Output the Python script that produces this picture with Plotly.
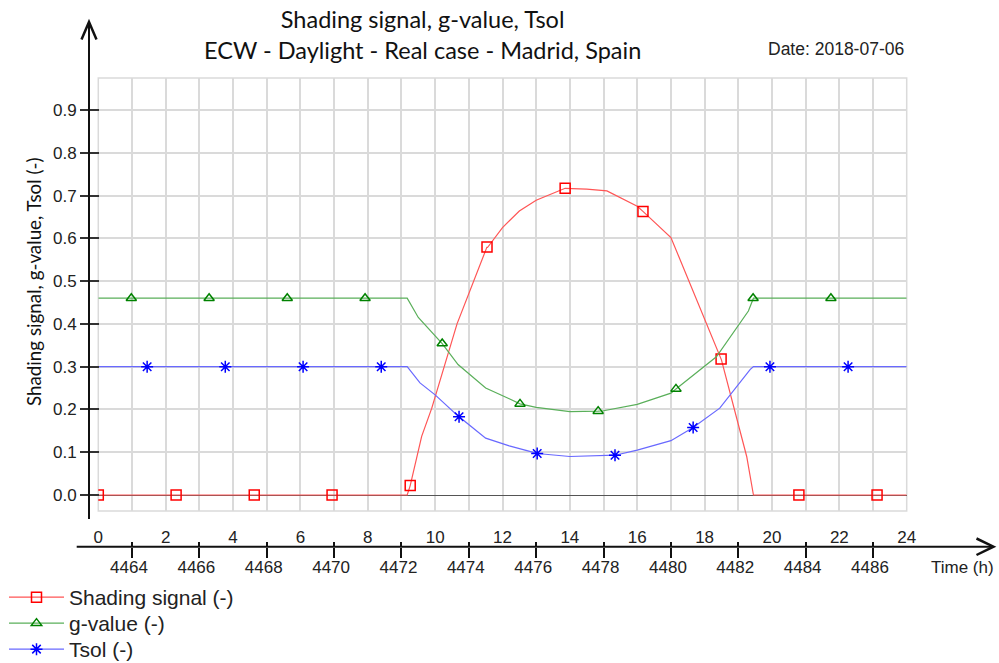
import plotly.graph_objects as go

# ---------------- data ----------------
# line knots: hour of day -> value
shade_h = [0, 9.17, 9.6, 9.9, 10.65, 11.55, 12.0, 12.5, 13.0, 13.86, 14.5, 15.1, 16.0, 17.0, 18.5, 19.25, 19.45, 24]
shade_v = [0, 0, 0.137, 0.203, 0.40, 0.578, 0.625, 0.664, 0.689, 0.716, 0.715, 0.711, 0.675, 0.602, 0.316, 0.09, 0, 0]

gval_h = [0, 9.17, 9.5, 10.2, 10.68, 11.5, 12.2, 13.0, 14.0, 15.0, 16.0, 17.0, 18.35, 19.3, 19.45, 24]
gval_v = [0.46, 0.46, 0.415, 0.356, 0.305, 0.25, 0.225, 0.205, 0.195, 0.197, 0.212, 0.238, 0.323, 0.43, 0.46, 0.46]

tsol_h = [0, 9.17, 9.55, 10.0, 10.7, 11.5, 12.2, 13.0, 14.0, 15.0, 16.0, 17.0, 18.45, 19.35, 19.45, 24]
tsol_v = [0.30, 0.30, 0.262, 0.234, 0.183, 0.133, 0.115, 0.098, 0.09, 0.092, 0.105, 0.127, 0.203, 0.293, 0.30, 0.30]

# marker positions along each curve
shade_mh = [0, 2.31, 4.63, 6.94, 9.26, 11.54, 13.86, 16.17, 18.49, 20.8, 23.12]
shade_mv = [0, 0, 0, 0, 0.022, 0.58, 0.717, 0.663, 0.318, 0, 0]
gval_mh = [0.98, 3.29, 5.61, 7.92, 10.21, 12.52, 14.84, 17.15, 19.44, 21.75]
gval_mv = [0.46, 0.46, 0.46, 0.46, 0.354, 0.213, 0.196, 0.248, 0.46, 0.46]
tsol_mh = [1.45, 3.77, 6.08, 8.40, 10.71, 13.03, 15.34, 17.66, 19.94, 22.26]
tsol_mv = [0.30, 0.30, 0.30, 0.30, 0.183, 0.097, 0.093, 0.158, 0.30, 0.30]

series_names = ["Shading signal (-)", "g-value (-)", "Tsol (-)"]

hour_ticks = list(range(0, 25, 2))
hour_labels = [str(h) for h in hour_ticks]
index_ticks = list(range(1, 24, 2))
index_labels = [str(4463 + h) for h in index_ticks]
y_ticks = [i / 10 for i in range(10)]
y_labels = [f"{v:.1f}" for v in y_ticks]

# ---------------- layout helpers ----------------
W, H = 999, 663
def px(x):
    return x / W
def py(y):
    return 1 - y / H

Y0_PX, Y09_PX = 495.0, 110.0
unit = (Y0_PX - Y09_PX) / 0.9
y_lo = -(511 - Y0_PX) / unit
y_hi = (Y0_PX - 78) / unit

ARIAL = "Liberation Sans, Arial, sans-serif"
TICK_FONT = dict(family=ARIAL, size=17, color="#222")


def combined(h_line, v_line, h_mark, v_mark):
    pts = [(h, v, 0) for h, v in zip(h_line, v_line)] + [(h, v, 1) for h, v in zip(h_mark, v_mark)]
    pts.sort(key=lambda p: (p[0], p[2]))
    xs = [p[0] for p in pts]
    ys = [p[1] for p in pts]
    sel = [i for i, p in enumerate(pts) if p[2] == 1]
    return xs, ys, sel


fig = go.Figure()

specs = [
    (shade_h, shade_v, shade_mh, shade_mv, "rgb(255,85,85)", "rgb(255,0,0)", "square-open", 10, "x", "y"),
    (gval_h, gval_v, gval_mh, gval_mv, "rgb(90,175,90)", "rgb(0,130,0)", "triangle-up-open", 9, "x2", "y"),
    (tsol_h, tsol_v, tsol_mh, tsol_mv, "rgb(105,105,255)", "rgb(0,0,255)", "asterisk-open", 10, "x3", "y2"),
]
legend_ids = ["legend", "legend2", "legend3"]
for i, (hl, vl, hm, vm, lc, mc, sym, ms, xa, ya) in enumerate(specs):
    xs, ys, sel = combined(hl, vl, hm, vm)
    fig.add_trace(go.Scatter(
        x=xs, y=ys, mode="lines+markers", name=series_names[i],
        xaxis=xa, yaxis=ya, legend=legend_ids[i],
        line=dict(color=lc, width=1.2),
        marker=dict(symbol=sym, size=ms, color=mc, line=dict(color=mc, width=1.5)),
        selectedpoints=sel,
        selected=dict(marker=dict(opacity=1)),
        unselected=dict(marker=dict(opacity=0)),
        hoverinfo="skip",
    ))

LEG = dict(x=px(4), xanchor="left", yanchor="top",
           font=dict(family=ARIAL, size=21, color="#222"),
           itemsizing="trace", itemwidth=55, bgcolor="rgba(0,0,0,0)")

fig.update_layout(
    width=W, height=H,
    margin=dict(l=0, r=0, t=0, b=0, autoexpand=False),
    paper_bgcolor="white", plot_bgcolor="white",
    template="none",
    font=dict(family=ARIAL, size=17, color="#222"),
    xaxis=dict(
        domain=[px(98.3), px(906.7)], range=[0, 24],
        tickvals=list(range(25)), showticklabels=False, ticks="",
        showgrid=True, gridcolor="#dadada", gridwidth=1.5,
        zeroline=False, showline=False, automargin=False,
    ),
    xaxis2=dict(
        overlaying="x", anchor="free", position=py(546.7), side="bottom",
        range=[0, 24], tickvals=index_ticks, ticktext=index_labels,
        ticks="outside", ticklen=10, tickwidth=1.5, tickcolor="#111",
        ticklabelstandoff=-5, ticklabelshift=-3,
        showgrid=False, zeroline=False, showline=False, automargin=False,
        tickfont=TICK_FONT,
    ),
    xaxis3=dict(
        overlaying="x", anchor="free", position=py(546.7), side="top",
        range=[0, 24], tickvals=hour_ticks, ticktext=hour_labels,
        ticks="", minor=dict(tickvals=index_ticks, ticks="outside", ticklen=5, tickwidth=1.5, tickcolor="#111"),
        showgrid=False, zeroline=False, showline=False, automargin=False,
        tickfont=TICK_FONT,
    ),
    yaxis=dict(
        domain=[py(511), py(78)], range=[y_lo, y_hi],
        anchor="free", position=px(89), side="left",
        tickvals=y_ticks, ticktext=y_labels,
        ticks="outside", ticklen=9, tickwidth=1.5, tickcolor="#333",
        showgrid=True, gridcolor="#dadada", gridwidth=1.5,
        zeroline=True, zerolinecolor="#555", zerolinewidth=1.3,
        showline=False, automargin=False, tickfont=TICK_FONT,
    ),
    yaxis2=dict(
        overlaying="y", anchor="free", position=px(89), side="right",
        range=[y_lo, y_hi], tickvals=y_ticks,
        ticks="outside", ticklen=9, tickwidth=1.5, tickcolor="#333",
        showticklabels=False, showgrid=False, zeroline=False, showline=False, automargin=False,
    ),
    legend=dict(LEG, y=py(577)),
    legend2=dict(LEG, y=py(603)),
    legend3=dict(LEG, y=py(629)),
    showlegend=True,
)

# plot frame
fig.add_shape(type="rect", xref="x domain", yref="y domain", x0=0, x1=1, y0=0, y1=1,
              line=dict(color="#dadada", width=1.5), layer="below")
# axis lines with open arrow heads
AX = dict(color="#111", width=2)
fig.add_shape(type="line", xref="paper", yref="paper", x0=px(89), x1=px(89), y0=py(519), y1=py(23), line=AX)
fig.add_shape(type="path", xref="paper", yref="paper",
              path=f"M {px(81.5)},{py(39.5)} L {px(89)},{py(22)} L {px(96.5)},{py(39.5)}",
              line=dict(color="#111", width=2.5))
fig.add_shape(type="line", xref="paper", yref="paper", x0=px(76.7), x1=px(992), y0=py(546.7), y1=py(546.7), line=AX)
fig.add_shape(type="path", xref="paper", yref="paper",
              path=f"M {px(976.5)},{py(538.5)} L {px(993.5)},{py(546.7)} L {px(976.5)},{py(555)}",
              line=dict(color="#111", width=2.5))

# texts
fig.add_annotation(x=px(422), y=py(34.5), xref="paper", yref="paper", xanchor="center", yanchor="middle",
                   text="Shading signal, g-value, Tsol<br>ECW - Daylight - Real case - Madrid, Spain",
                   showarrow=False, font=dict(family="Lato, sans-serif", size=23.5, color="#111"))
fig.add_annotation(x=px(33), y=py(282), xref="paper", yref="paper", xanchor="center", yanchor="middle",
                   text="Shading signal, g-value, Tsol (-)",
                   textangle=-90, showarrow=False, font=dict(family="Lato, sans-serif", size=18.8, color="#111"))
fig.add_annotation(x=px(835.5), y=py(49), xref="paper", yref="paper", xanchor="center", yanchor="middle",
                   text="Date: 2018-07-06",
                   showarrow=False, font=dict(family=ARIAL, size=17.5, color="#222"))
fig.add_annotation(x=px(962.5), y=py(567), xref="paper", yref="paper", xanchor="center", yanchor="middle",
                   text="Time (h)",
                   showarrow=False, font=dict(family=ARIAL, size=17, color="#222"))

fig.write_html("out.html")
